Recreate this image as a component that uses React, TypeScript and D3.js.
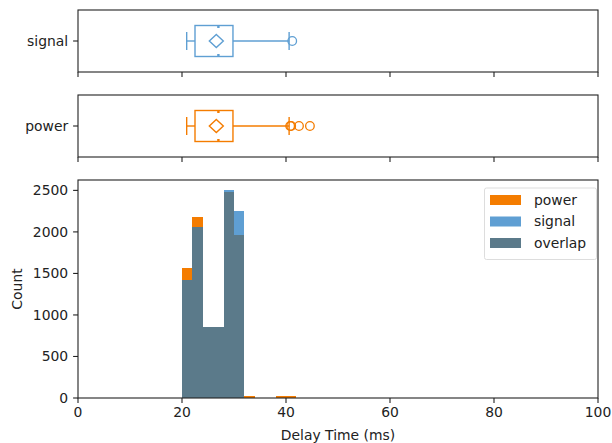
import * as d3 from 'd3';

// histogram bins (ms) and counts per bin
const binEdges = [20, 22, 24, 26, 28, 30, 32, 34, 36, 38, 40, 42];
const powerCounts = [1570, 2175, 850, 850, 2475, 1960, 30, 5, 5, 25, 25];
const signalCounts = [1415, 2065, 850, 850, 2500, 2255, 0, 0, 0, 0, 0];

// box plot stats: [whiskerLow, q1, median, q3, whiskerHigh]
const seriesNames = ['signal', 'power'];
const signalBox = [20.9, 22.5, 27.0, 29.8, 40.6];
const powerBox = [20.9, 22.5, 27.0, 29.8, 40.6];
const signalMean = 26.6;
const powerMean = 26.6;
const signalOutliers = [41.2];
const powerOutliers = [40.8, 41.0, 42.5, 44.6];

const xTicks = [0, 20, 40, 60, 80, 100];
const yTicks = [0, 500, 1000, 1500, 2000, 2500];

const W = 612, H = 443;
const L = 78, R = 598;
const panels = [
  { top: 10, bottom: 72 },
  { top: 95, bottom: 157 },
];
const histTop = 180, histBottom = 398;

const ORANGE = '#f47c00';
const BLUE = '#5f9fd3';
const GRAY = '#5b7a8a';
const INK = '#222';
const FONT = 'DejaVu Sans, sans-serif';
const FS = 13.9;
const TICK = 4.9;

const x = d3.scaleLinear().domain([0, 100]).range([L, R]);
const yMax = d3.max([...powerCounts, ...signalCounts])! * 1.05;
const y = d3.scaleLinear().domain([0, yMax]).range([histBottom, histTop]);

function BoxPanel({ top, bottom, name, box, mean, outliers, color }: any) {
  const cy = (top + bottom) / 2;
  const [lo, q1, med, q3, hi] = box;
  const bh = 15.5, cap = 9;
  const dx = 7, dy = 6.5;
  const mx = x(mean);
  const sw = 1.4;
  return (
    <g>
      <rect x={L} y={top} width={R - L} height={bottom - top} fill="none" stroke={INK} strokeWidth={1.1} />
      {xTicks.map(t => (
        <line key={t} x1={x(t)} x2={x(t)} y1={bottom} y2={bottom + TICK} stroke={INK} strokeWidth={1.1} />
      ))}
      <line x1={L - TICK} x2={L} y1={cy} y2={cy} stroke={INK} strokeWidth={1.1} />
      <text x={L - TICK - 4.9} y={cy} dy="0.35em" textAnchor="end" fontSize={FS} fontFamily={FONT} fill={INK}>{name}</text>
      <line x1={x(lo)} x2={x(q1)} y1={cy} y2={cy} stroke={color} strokeWidth={sw} />
      <line x1={x(q3)} x2={x(hi)} y1={cy} y2={cy} stroke={color} strokeWidth={sw} />
      <line x1={x(lo)} x2={x(lo)} y1={cy - cap} y2={cy + cap} stroke={color} strokeWidth={sw} />
      <line x1={x(hi)} x2={x(hi)} y1={cy - cap} y2={cy + cap} stroke={color} strokeWidth={sw} />
      <rect x={x(q1)} y={cy - bh} width={x(q3) - x(q1)} height={bh * 2} fill="none" stroke={color} strokeWidth={sw} />
      <rect x={x(med) - 1.2} y={cy - bh - 0.5} width={2.4} height={3} fill={color} />
      <rect x={x(med) - 1.2} y={cy + bh - 2.5} width={2.4} height={3} fill={color} />
      <path d={`M${mx},${cy - dy}L${mx + dx},${cy}L${mx},${cy + dy}L${mx - dx},${cy}Z`} fill="white" stroke={color} strokeWidth={1.4} />
      {outliers.map((o: number, i: number) => (
        <circle key={i} cx={x(o)} cy={cy} r={4.3} fill="none" stroke={color} strokeWidth={1.3} />
      ))}
    </g>
  );
}

export default function App() {
  const bins = binEdges.slice(0, -1).map((e, i) => ({
    x0: e, x1: binEdges[i + 1], p: powerCounts[i], s: signalCounts[i], o: Math.min(powerCounts[i], signalCounts[i]),
  }));
  const legend = [
    { label: 'power', color: ORANGE },
    { label: 'signal', color: BLUE },
    { label: 'overlap', color: GRAY },
  ];
  const bar = (v: number, b: any, key: string, fill: string) => (
    <rect key={key} x={x(b.x0)} y={y(v)} width={x(b.x1) - x(b.x0)} height={histBottom - y(v)} fill={fill} shapeRendering="crispEdges" />
  );
  return (
    <svg width={W} height={H} style={{ position: 'absolute', left: 0, top: 0 }}>
      <rect width={W} height={H} fill="white" />
      <BoxPanel {...panels[0]} name={seriesNames[0]} box={signalBox} mean={signalMean} outliers={signalOutliers} color={BLUE} />
      <BoxPanel {...panels[1]} name={seriesNames[1]} box={powerBox} mean={powerMean} outliers={powerOutliers} color={ORANGE} />

      {bins.map((b, i) => bar(b.p, b, 'p' + i, ORANGE))}
      {bins.map((b, i) => bar(b.s, b, 's' + i, BLUE))}
      {bins.map((b, i) => bar(b.o, b, 'o' + i, GRAY))}

      <rect x={L} y={histTop} width={R - L} height={histBottom - histTop} fill="none" stroke={INK} strokeWidth={1.1} />
      {xTicks.map(t => (
        <g key={t}>
          <line x1={x(t)} x2={x(t)} y1={histBottom} y2={histBottom + TICK} stroke={INK} strokeWidth={1.1} />
          <text x={x(t)} y={histBottom + 19} textAnchor="middle" fontSize={FS} fontFamily={FONT} fill={INK}>{t}</text>
        </g>
      ))}
      {yTicks.map(t => (
        <g key={t}>
          <line x1={L - TICK} x2={L} y1={y(t)} y2={y(t)} stroke={INK} strokeWidth={1.1} />
          <text x={L - TICK - 4.9} y={y(t)} dy="0.35em" textAnchor="end" fontSize={FS} fontFamily={FONT} fill={INK}>{t}</text>
        </g>
      ))}
      <text x={(L + R) / 2} y={440} textAnchor="middle" fontSize={FS} fontFamily={FONT} fill={INK}>Delay Time (ms)</text>
      <text transform={`translate(17,${(histTop + histBottom) / 2}) rotate(-90)`} dy="0.35em" textAnchor="middle" fontSize={FS} fontFamily={FONT} fill={INK}>Count</text>

      <rect x={484.5} y={188} width={112} height={71.5} rx={2} fill="white" fillOpacity={0.8} stroke="#ddd" />
      {legend.map((d, i) => (
        <g key={d.label} transform={`translate(490,${200 + i * 21.5})`}>
          <rect x={0} y={-5} width={31} height={10} fill={d.color} />
          <text x={44} y={0} dy="0.35em" fontSize={FS} fontFamily={FONT} fill={INK}>{d.label}</text>
        </g>
      ))}
    </svg>
  );
}
